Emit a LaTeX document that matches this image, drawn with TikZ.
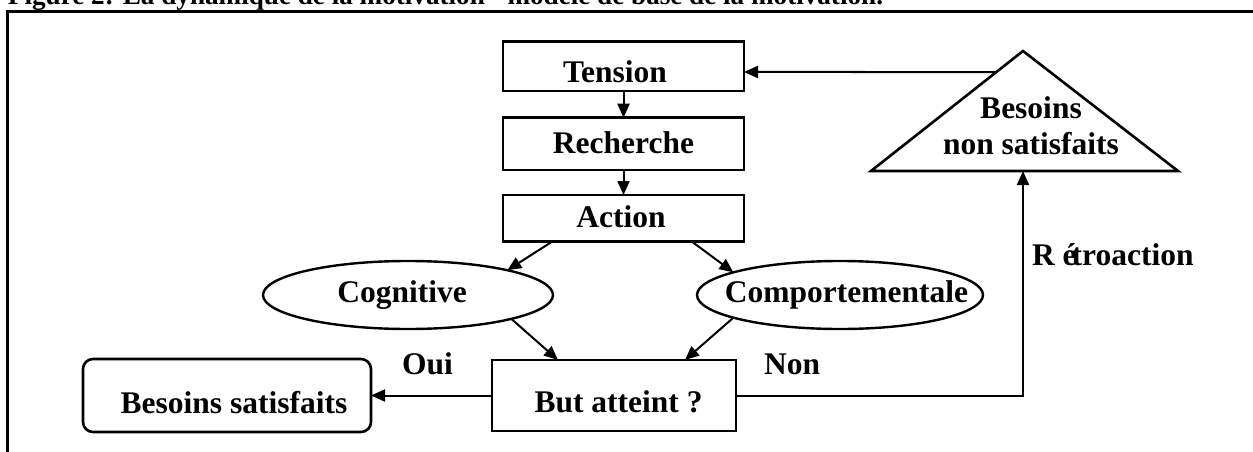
\documentclass[tikz,border=0pt]{standalone}
\usepackage{fontspec}
\usepackage{graphicx}
\setmainfont{Liberation Serif}
\usetikzlibrary{arrows.meta,shapes.geometric,calc}
\begin{document}
\begin{tikzpicture}[x=1pt,y=-1pt,
  every node/.style={font=\fontsize{31.5pt}{36pt}\selectfont\bfseries, inner sep=0pt, outer sep=0pt},
  box/.style={draw, line width=2.6pt, rectangle, minimum width=241pt},
  oval/.style={draw, line width=2.4pt, ellipse, minimum height=68pt},
  link/.style={line width=2pt, -{Triangle[length=14pt,width=12pt]}},
  lbl/.style={anchor=base west}]

\fill[white] (0,0) rectangle (1253,452);
\useasboundingbox (0,0) rectangle (1253,452);

% frame and (cropped) title
\draw[line width=3pt, line join=miter] (7.3,470) -- (7.3,11.5) -- (1270,11.5);
\node[anchor=base west] (title) at (8,4.5) {\resizebox{875pt}{!}{Figure 2: La dynamique de la motivation - modèle de base de la motivation.}};

% main column
\node[box, minimum height=49.5pt, text height=31.4pt, text depth=0pt] (tension) at (623.5,66.3) {Tension\hspace*{17pt}};
\node[box, minimum height=52.3pt, text height=18.9pt, text depth=0pt] (recherche) at (623.5,143.85) {Recherche};
\node[box, minimum height=46.7pt, text height=17.9pt, text depth=0pt] (action) at (623.5,218.35) {Action\hspace*{5pt}};

\node[oval, minimum width=290pt] (cog) at (408,295) {Cognitive\hspace*{12pt}};
\node[oval, minimum width=286pt] (comp) at (840,295) {\makebox[180pt]{\hspace*{13pt}Comportementale}};

\node[box, minimum width=244pt, minimum height=71pt, text height=33pt, text depth=0pt] (but) at (614,395.5) {\hspace*{9pt}But atteint ?};
\node[box, rounded corners=10pt, minimum width=288pt, minimum height=73pt, text height=35pt, text depth=0pt] (bs) at (227,395.5) {\hspace*{14pt}Besoins satisfaits};

% triangle
\coordinate (apex) at (1023,51);
\coordinate (tbl) at (871,171);
\coordinate (tbr) at (1178,171);
\coordinate (tbase) at (1023,171);
\coordinate (tleft) at ($(apex)!0.175!(tbl)$);
\draw[line width=2.6pt, line join=miter] (apex) -- (tbl) -- (tbr) -- cycle;
\node[align=center] (bns) at (1031,125.3) {Besoins\\non satisfaits};

% connectors
\draw[link] (tension.south) -- (recherche.north);
\draw[link] (recherche.south) -- (action.north);
\draw[link] ([xshift=49pt]action.south west) -- (cog.14);
\draw[link] ([xshift=-52pt]action.south east) -- (comp.168);
\draw[link] (cog.-13) -- ([xshift=66pt]but.north west);
\draw[link] (comp.192) -- ([xshift=-51pt]but.north east);
\draw[link] (but.west) -- (bs.east);
\draw[link] (but.east) -| (tbase);
\draw[link] (tleft) -- ([yshift=-5.7pt]tension.east);

% labels
\node[lbl] (oui) at (402,374) {Oui};
\node[lbl] (non) at (764,374) {Non};
\node[lbl] (retro) at (1032,265) {R é\kern-5pt troaction};
\end{tikzpicture}
\end{document}
